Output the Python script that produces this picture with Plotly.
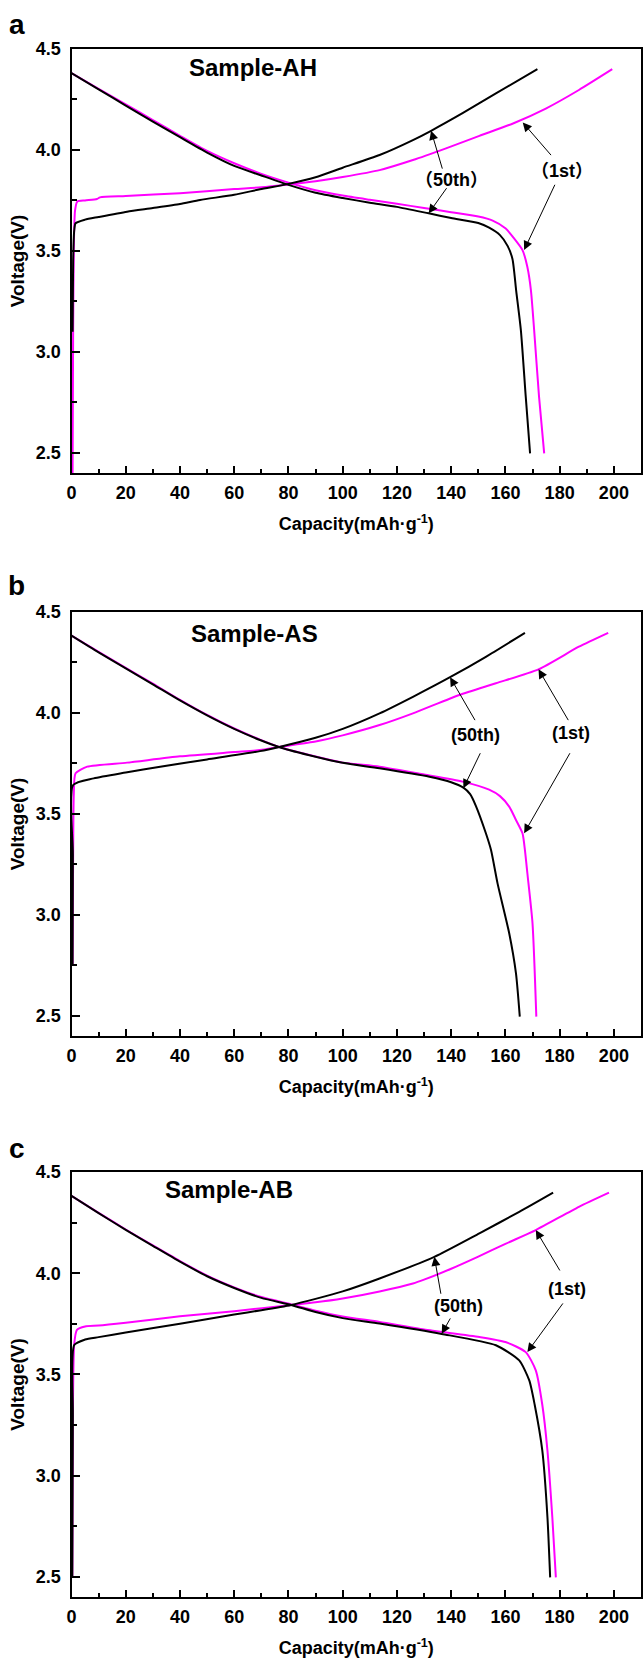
import plotly.graph_objects as go

# ---------------- data (Capacity mAh/g, Voltage V) ----------------
# Panel a : Sample-AH
a_ch1_x = [0.4, 0.6, 0.9, 1.3, 2.1, 5, 9.4, 10.5, 20, 40, 60, 70, 80, 90, 100, 113.6, 125.9, 138.1, 150.4, 162.6, 174.9, 187.1, 199.4]
a_ch1_v = [2.40, 3.10, 3.55, 3.70, 3.744, 3.750, 3.757, 3.765, 3.772, 3.786, 3.806, 3.815, 3.829, 3.845, 3.866, 3.900, 3.950, 4.008, 4.070, 4.130, 4.205, 4.297, 4.400]
a_ch50_x = [0.4, 0.6, 1.0, 1.5, 5, 10, 20.5, 30, 40, 47.4, 60, 69.5, 80, 90, 100, 113.6, 125.9, 132.6, 144.2, 156.5, 171.8]
a_ch50_v = [3.10, 3.45, 3.60, 3.637, 3.655, 3.668, 3.694, 3.712, 3.732, 3.752, 3.778, 3.805, 3.832, 3.865, 3.912, 3.975, 4.049, 4.095, 4.182, 4.280, 4.400]
a_dis1_x = [0, 10, 20, 30, 40, 50, 60, 69.5, 80, 90, 100, 110, 120, 130, 140, 150, 155.3, 160, 162.6, 166.3, 168.1, 169.4, 170.6, 172.4, 174.3]
a_dis1_v = [4.381, 4.303, 4.226, 4.148, 4.070, 3.995, 3.934, 3.884, 3.838, 3.800, 3.774, 3.753, 3.733, 3.713, 3.692, 3.670, 3.650, 3.612, 3.572, 3.504, 3.420, 3.306, 3.108, 2.778, 2.497]
a_dis50_x = [0, 10, 20, 30, 40, 50, 60, 69.5, 80, 90, 100, 110, 120, 131.7, 140, 150, 154, 158, 160.8, 162.6, 164.0, 165.7, 167.5, 169.1]
a_dis50_v = [4.381, 4.300, 4.220, 4.140, 4.063, 3.987, 3.921, 3.876, 3.827, 3.788, 3.762, 3.739, 3.718, 3.686, 3.663, 3.638, 3.615, 3.578, 3.525, 3.460, 3.300, 3.108, 2.778, 2.497]

# Panel b : Sample-AS
b_ch1_x = [0.4, 0.6, 0.85, 1.5, 5.8, 20.5, 40, 60, 69.5, 77, 90, 100, 113.6, 125.9, 143, 156.5, 172.2, 187.1, 197.9]
b_ch1_v = [2.75, 3.30, 3.60, 3.701, 3.734, 3.754, 3.785, 3.806, 3.816, 3.833, 3.859, 3.889, 3.940, 3.998, 4.089, 4.147, 4.216, 4.328, 4.397]
b_ch50_x = [0.4, 0.5, 0.6, 8.2, 20, 32.7, 50, 69.5, 77, 90, 100, 113.6, 125.9, 139.6, 152.8, 167.2]
b_ch50_v = [2.75, 3.30, 3.643, 3.676, 3.705, 3.734, 3.770, 3.811, 3.833, 3.877, 3.921, 3.998, 4.080, 4.177, 4.278, 4.397]
b_dis1_x = [0, 10, 20, 30, 40, 50, 60, 69.5, 77, 90, 100, 113.6, 130, 144.2, 154, 158, 161.4, 163.9, 166.3, 167.2, 168.1, 170, 171.4]
b_dis1_v = [4.383, 4.302, 4.223, 4.145, 4.065, 3.990, 3.923, 3.868, 3.830, 3.784, 3.754, 3.734, 3.695, 3.660, 3.620, 3.588, 3.536, 3.470, 3.404, 3.321, 3.206, 2.958, 2.496]
b_dis50_x = [0, 10, 20, 30, 40, 50, 60, 69.5, 77, 90, 100, 113.6, 132, 140, 144.5, 147, 149.1, 152.8, 154.7, 157.1, 161.4, 163.9, 165.3]
b_dis50_v = [4.383, 4.300, 4.221, 4.142, 4.062, 3.988, 3.921, 3.866, 3.829, 3.783, 3.753, 3.726, 3.684, 3.657, 3.630, 3.598, 3.540, 3.404, 3.321, 3.156, 2.909, 2.710, 2.496]

# Panel c : Sample-AB
c_ch1_x = [0.3, 0.5, 1.0, 2, 5, 10, 20, 40, 60, 81, 90, 100, 113.6, 125.9, 130, 140, 150, 160, 171.2, 187.1, 198.2]
c_ch1_v = [2.50, 3.30, 3.65, 3.72, 3.737, 3.741, 3.755, 3.787, 3.812, 3.843, 3.856, 3.875, 3.910, 3.949, 3.968, 4.022, 4.082, 4.145, 4.213, 4.328, 4.398]
c_ch50_x = [0.3, 0.5, 1.0, 5, 10, 20, 40, 60, 70, 81, 90, 100, 113.6, 133.8, 150.4, 165.1, 177.6]
c_ch50_v = [2.50, 3.30, 3.645, 3.672, 3.684, 3.707, 3.750, 3.796, 3.817, 3.843, 3.873, 3.910, 3.974, 4.081, 4.197, 4.303, 4.398]
c_dis1_x = [0, 10, 20, 30, 40, 50, 60, 70, 81, 90, 100, 113.6, 130, 150.4, 160, 167.5, 171.2, 173.6, 175.5, 177.3, 178.6]
c_dis1_v = [4.382, 4.298, 4.216, 4.137, 4.060, 3.988, 3.930, 3.882, 3.846, 3.815, 3.786, 3.759, 3.722, 3.685, 3.660, 3.610, 3.520, 3.350, 3.124, 2.794, 2.497]
c_dis50_x = [0, 10, 20, 30, 40, 50, 60, 70, 81, 90, 100, 113.6, 136.5, 156.5, 165.1, 168.8, 170.8, 173.6, 175.5, 176.5]
c_dis50_v = [4.382, 4.297, 4.214, 4.135, 4.057, 3.985, 3.927, 3.878, 3.843, 3.808, 3.778, 3.751, 3.700, 3.644, 3.569, 3.470, 3.350, 3.124, 2.794, 2.497]

panel_letters = ["a", "b", "c"]
sample_names = ["Sample-AH", "Sample-AS", "Sample-AB"]
sample_pos = [(67, 4.406), (67.5, 4.394), (57.9, 4.416)]
label_50 = ["<span style='font-family:Noto Sans CJK SC'>（</span>50th<span style='font-family:Noto Sans CJK SC'>）</span>",
            "(50th)", "(50th)"]
label_1 = ["<span style='font-family:Noto Sans CJK SC'>（</span>1st<span style='font-family:Noto Sans CJK SC'>）</span>",
           "(1st)", "(1st)"]
label_50_pos = [(140, 3.86), (148.8, 3.891), (142.6, 3.837)]
label_1_pos = [(181, 3.904), (184.1, 3.899), (182.8, 3.924)]
# arrows: (tip_x, tip_v, tail_x, tail_v)
arrows = [
    [(132.6, 4.095, 136.9, 3.90), (131.7, 3.686, 138.7, 3.818),
     (166.4, 4.136, 177.3, 3.967), (166.9, 3.504, 178.5, 3.835)],
    [(139.6, 4.177, 149.1, 3.957), (144.5, 3.627, 151.0, 3.808),
     (172.2, 4.216, 183.5, 3.957), (166.9, 3.404, 184.1, 3.808)],
    [(133.8, 4.081, 136.3, 3.891), (136.5, 3.701, 140.0, 3.784),
     (171.2, 4.213, 180.4, 4.006), (168.1, 3.610, 181.6, 3.858)],
]

x_ticks = [0, 20, 40, 60, 80, 100, 120, 140, 160, 180, 200]
y_ticks = [2.5, 3.0, 3.5, 4.0, 4.5]
x_title = "Capacity(mAh·g<sup>-1</sup>)"
y_title = "Voltage(V)"

series = [
    (a_ch1_x, a_ch1_v, a_dis1_x, a_dis1_v, a_ch50_x, a_ch50_v, a_dis50_x, a_dis50_v),
    (b_ch1_x, b_ch1_v, b_dis1_x, b_dis1_v, b_ch50_x, b_ch50_v, b_dis50_x, b_dis50_v),
    (c_ch1_x, c_ch1_v, c_dis1_x, c_dis1_v, c_ch50_x, c_ch50_v, c_dis50_x, c_dis50_v),
]

# ---------------- layout geometry ----------------
W, H = 643, 1659
MAG = "#FF00FF"
FONT = "Liberation Sans, Arial, Helvetica, Noto Sans CJK SC, sans-serif"
x_dom = [71.5 / W, 641 / W]
panel_px = [(49, 473), (612, 1036), (1172, 1597)]  # (top, bottom) in px
letter_px = [25, 586, 1148]

fig = go.Figure()
layout = dict(
    width=W, height=H, autosize=False,
    margin=dict(l=0, r=0, t=0, b=0),
    paper_bgcolor="white", plot_bgcolor="white",
    showlegend=False,
    font=dict(family=FONT, color="black"),
)
annotations = []

for i in range(3):
    n = "" if i == 0 else str(i + 1)
    xa, ya = "x" + n, "y" + n
    ch1x, ch1v, d1x, d1v, ch50x, ch50v, d50x, d50v = series[i]
    for xs, vs, col in [(ch1x, ch1v, MAG), (d1x, d1v, MAG), (ch50x, ch50v, "black"), (d50x, d50v, "black")]:
        fig.add_trace(go.Scatter(x=xs, y=vs, mode="lines",
                                 line=dict(color=col, width=2, shape="spline", smoothing=0.6),
                                 xaxis=xa, yaxis=ya, hoverinfo="skip"))
    top, bot = panel_px[i]
    layout["xaxis" + n] = dict(
        domain=x_dom, anchor=ya, range=[0, 210],
        tickmode="array", tickvals=x_ticks,
        ticks="inside", ticklen=7, tickwidth=2, tickcolor="black",
        minor=dict(dtick=10, tick0=0, ticks="inside", ticklen=4, tickwidth=1.5, tickcolor="black"),
        showline=True, linewidth=2, linecolor="black", mirror=True,
        showgrid=False, zeroline=False, automargin=False,
        tickfont=dict(size=18, family=FONT, weight="bold", color="black"),
        ticklabelstandoff=2,
        title=dict(text=x_title, font=dict(size=18, family=FONT, weight="bold", color="black"), standoff=16),
    )
    layout["yaxis" + n] = dict(
        domain=[1 - bot / H, 1 - top / H], anchor=xa, range=[2.4, 4.5],
        tickmode="array", tickvals=y_ticks, tickformat=".1f",
        ticks="inside", ticklen=8, tickwidth=2, tickcolor="black",
        minor=dict(dtick=0.25, tick0=2.5, ticks="inside", ticklen=5, tickwidth=1.5, tickcolor="black"),
        showline=True, linewidth=2, linecolor="black", mirror=True,
        showgrid=False, zeroline=False, automargin=False,
        tickfont=dict(size=18, family=FONT, weight="bold", color="black"),
        ticklabelstandoff=5,
        title=dict(text=y_title, font=dict(size=19, family=FONT, weight="bold", color="black"), standoff=6),
    )
    annotations.append(dict(x=16.7 / W, y=1 - letter_px[i] / H, xref="paper", yref="paper",
                            text="<b>%s</b>" % panel_letters[i], showarrow=False,
                            font=dict(size=28, family=FONT, color="black"),
                            xanchor="center", yanchor="middle"))
    sx, sy = sample_pos[i]
    annotations.append(dict(x=sx, y=sy, xref=xa, yref=ya, text="<b>%s</b>" % sample_names[i],
                            showarrow=False, font=dict(size=24, family=FONT, color="black"),
                            xanchor="center", yanchor="middle"))
    for (tx, ty), lab in [(label_50_pos[i], label_50[i]), (label_1_pos[i], label_1[i])]:
        annotations.append(dict(x=tx, y=ty, xref=xa, yref=ya, text="<b>%s</b>" % lab,
                                showarrow=False, font=dict(size=18, family=FONT, color="black"),
                                xanchor="center", yanchor="middle"))
    for (hx, hy, ax_, ay_) in arrows[i]:
        annotations.append(dict(x=hx, y=hy, ax=ax_, ay=ay_, xref=xa, yref=ya, axref=xa, ayref=ya,
                                text="", showarrow=True, arrowhead=2, arrowsize=1.8, arrowwidth=1,
                                arrowcolor="black", standoff=0, startstandoff=0))

layout["annotations"] = annotations
fig.update_layout(**layout)
fig.write_html("out.html")
